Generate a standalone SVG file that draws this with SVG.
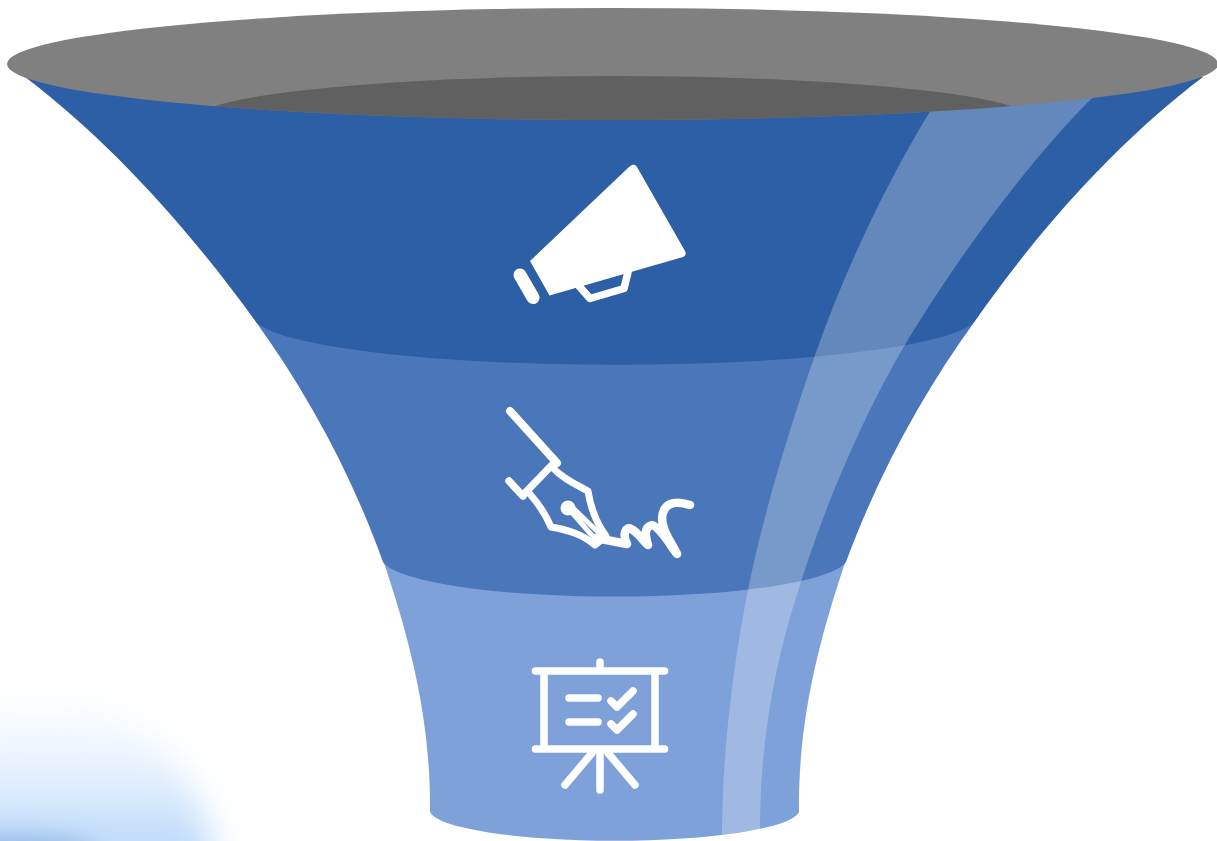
<svg xmlns="http://www.w3.org/2000/svg" width="1217" height="841" viewBox="0 0 1217 841">
<style>
.ic{fill:none;stroke:#fff;stroke-linecap:round;stroke-linejoin:round}
</style>
<defs>
<filter id="b1" x="-50%" y="-50%" width="200%" height="200%"><feGaussianBlur stdDeviation="17"/></filter>
<filter id="b2" x="-50%" y="-100%" width="200%" height="300%"><feGaussianBlur stdDeviation="13"/></filter>
<linearGradient id="glowfill" gradientUnits="userSpaceOnUse" x1="0" y1="705" x2="0" y2="841">
<stop offset="0" stop-color="#fafcff"/><stop offset=".45" stop-color="#e9f3fe"/><stop offset="1" stop-color="#bfdcfb"/>
</linearGradient>
<clipPath id="rim"><ellipse cx="612.500" cy="64" rx="605.500" ry="56"/></clipPath>
<clipPath id="page"><rect width="1217" height="841"/></clipPath>
</defs>
<rect width="1217" height="841" fill="#fff"/>
<g id="glow" clip-path="url(#page)">
<ellipse cx="50" cy="880" rx="165" ry="178" fill="url(#glowfill)" filter="url(#b1)"/>
<ellipse cx="15" cy="858" rx="85" ry="20" fill="#6f9ad2" filter="url(#b2)" opacity=".65"/>
</g>
<g id="tier3">
<path fill="#7fa1da" d="M383 560C410 640 431 720 430 812A185 31 0 0 0 799 812C798 720 819 640 846 560Z"/>
</g>
<g id="tier2">
<path fill="#4a77b9" d="M256 322C305 390 350 470 383 562A233 39 0 0 0 846 562C880 470 925 390 975 321Z"/>
</g>
<g id="tier1">
<path fill="#2c5fa5" d="M25 77C107 139 186 225 256 322A362 49 0 0 0 975 321C1042 225 1121 139 1203 77L612 40Z"/>
</g>
<path id="highlight" fill="#fff" fill-opacity=".26" d="M932 108C885 185 845 270 815 355C793 418 764 510 748 590C732 670 722 760 722 835L760 829.500C760 740 775 660 801 582C825 505 865 412 906 343C950 270 1020 170 1094 96Z"/>
<g id="rim-group">
<ellipse cx="612.500" cy="64" rx="605.500" ry="56" fill="#808080"/>
<ellipse cx="613" cy="120" rx="420" ry="44" fill="#606060" clip-path="url(#rim)"/>
</g>
<g id="megaphone">
<path fill="#fff" d="M530 261L629 167Q634 162 637 167L685 251Q687 255 683 257L549.500 295.500Z"/>
<path class="ic" stroke-width="7.500" d="M579 286L590 298.500L624 288.500L628 272"/>
<path class="ic" stroke-width="13" d="M520 275L533 297.500"/>
</g>
<g id="pen">
<g class="ic" stroke-width="8">
<path d="M510 411L557 463"/>
<path stroke-width="7.500" d="M552 465L523 495M509 481L523 496"/>
<path stroke-width="7" d="M553 468C562 478 575 484 588 491C591 510 597 524 606 536L595 545C582 534 568 530 551 527C546 515 538 503 529 493"/>
<path stroke-width="5" d="M568 508L596 540M571 506L603 537"/>
<path stroke-width="8.500" d="M596 538L627 544C622 534 626 526 631 529C638 532 643 541 648 545C645 535 644 527 652 525C660 527 670 545 677 554C670 540 662 530 662 518C663 505 672 499 690 505"/>
</g>
<circle cx="568" cy="508" r="7.500" fill="#fff"/>
</g>
<g id="board">
<g class="ic" stroke-width="7.500">
<path d="M535.500 671H664.500M535.500 749H664.500M544 671V749M655 671V749M600 662V671"/>
<path d="M569 698H598M569 722H598"/>
<path d="M611 701L617 707L633 691M611 724L617 730L633 714"/>
<path d="M600 752V790M592 753L565 785M608 753L635 785"/>
</g>
</g>
</svg>
